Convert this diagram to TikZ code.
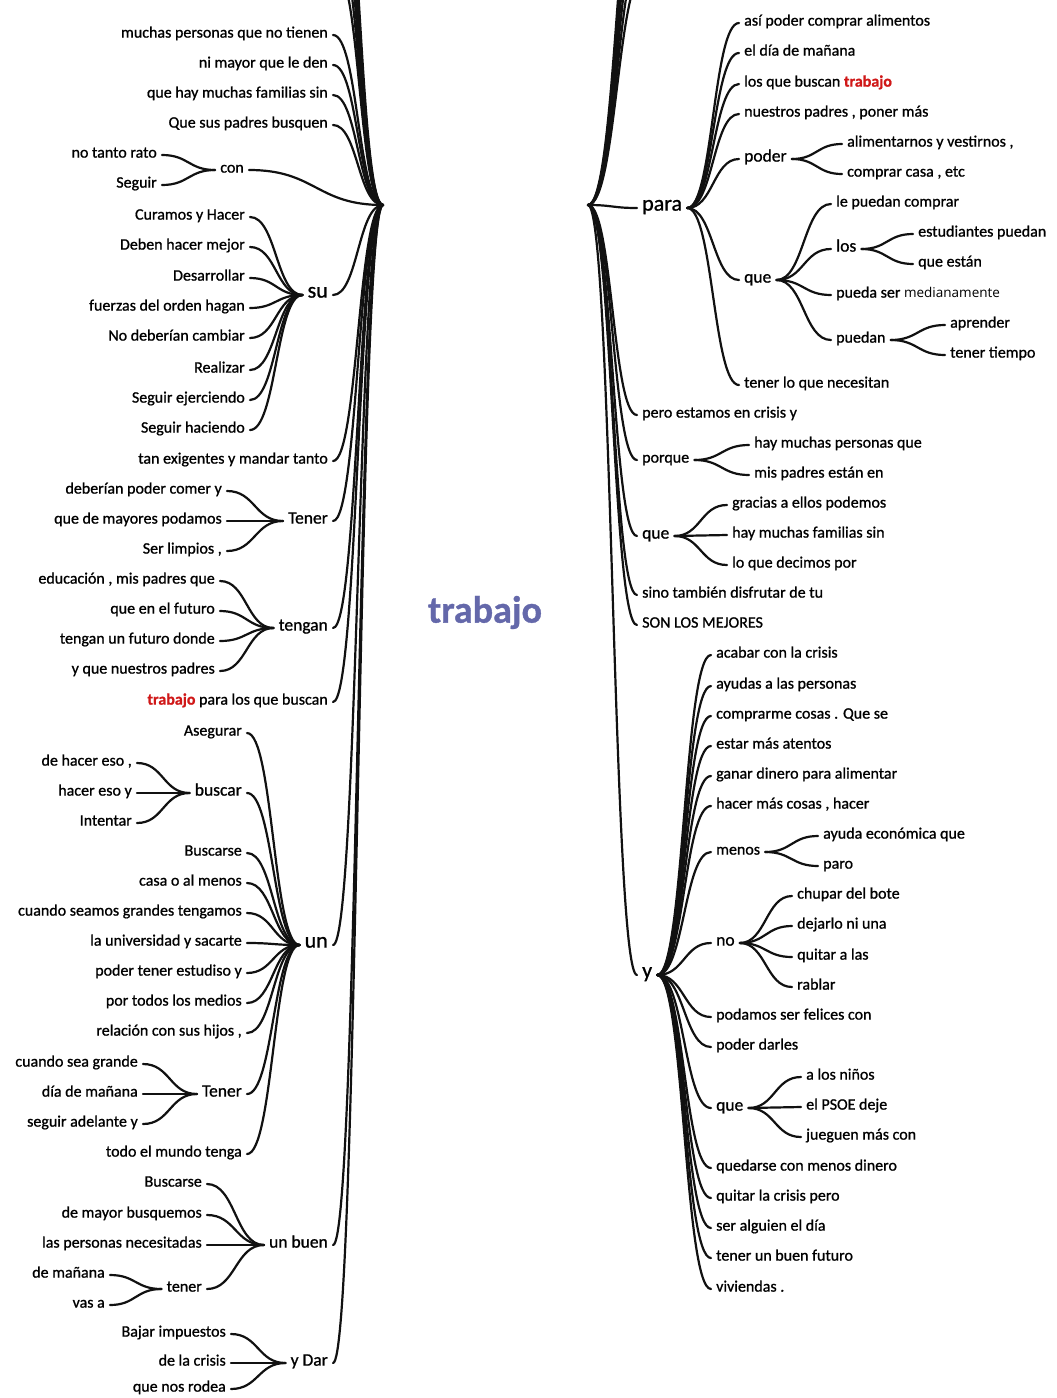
\documentclass[tikz,border=0pt]{standalone}
\usepackage{fontspec}
\setmainfont{Carlito}[FakeBold=0.9]
\newfontfamily\plainfont{Open Sans}
\usetikzlibrary{calc}
\definecolor{KeyWord}{HTML}{6468AA}
\definecolor{HitRed}{HTML}{D01818}
\definecolor{Twig}{HTML}{111111}

\begin{document}
\begin{tikzpicture}[x=1pt,y=-1pt,
  every node/.style={inner xsep=5pt,inner ysep=1pt,text height=1.1ex,text depth=0pt},
  wd/.style={font=\fontsize{16}{18}\selectfont},
  md/.style={font=\fontsize{17.5}{20}\selectfont},
  bg/.style={font=\fontsize{22}{24}\selectfont},
  toL/.style={anchor=east,xshift=5pt,yshift=-3pt},
  toR/.style={anchor=west,xshift=-5pt,yshift=-3pt},
  twig/.style={Twig,line width=2.2pt,line cap=round,to path={let \p1=(\tikztostart),\p2=(\tikztotarget) in .. controls ({(\x1+\x2)/2},\y1) and ({(\x1+\x2)/2},\y2) .. (\tikztotarget)}}]
\useasboundingbox (0,0) rectangle (1057,1398); \fill[white] (0,0) rectangle (1057,1398); \clip (0,0) rectangle (1057,1398);
\coordinate (Lroot) at (383,205); \coordinate (Rroot) at (588,205);
\node[font=\bfseries\fontsize{38}{40}\selectfont,text=KeyWord] (key) at (485,620){trabajo};
% left half
\foreach \y [count=\i] in {-30,-60,-90,-120,-150,-180}{\coordinate (offL\i) at (336,\y); \draw[twig] (offL\i) to (Lroot);}
\foreach \t/\y [count=\i] in {muchas personas que no tienen/32,ni mayor que le den/62,que hay muchas familias sin/92,Que sus padres busquen/122,tan exigentes y mandar tanto/458}{\node[wd,toL] (top\i) at (328,\y){\t}; \draw[twig] (top\i.east) to (Lroot);}
\node[wd,toL] (hitL) at (328,699){{\color{HitRed}\bfseries trabajo} para los que buscan}; \draw[twig] (hitL.east) to (Lroot);
\node[wd,toL] (con) at (244,167){con}; \draw[twig] (con.east) to (Lroot);
\foreach \t/\y [count=\i] in {no tanto rato/152,Seguir/182}{\node[wd,toL] (con\i) at (157,\y){\t}; \draw[twig] (con\i.east) to (con.west);}
\node[bg,toL] (su) at (328,292){su}; \draw[twig] (su.east) to (Lroot);
\foreach \t/\y [count=\i] in {Curamos y Hacer/214,Deben hacer mejor/244,Desarrollar/275,fuerzas del orden hagan/305,No deberían cambiar/335,Realizar/367,Seguir ejerciendo/397,Seguir haciendo/427}{\node[wd,toL] (su\i) at (245,\y){\t}; \draw[twig] (su\i.east) to (su.west);}
\node[md,toL] (tenerA) at (328,518){Tener}; \draw[twig] (tenerA.east) to (Lroot);
\foreach \t/\y [count=\i] in {deberían poder comer y/488,que de mayores podamos/518,{Ser limpios ,}/548}{\node[wd,toL] (tenerA\i) at (222,\y){\t}; \draw[twig] (tenerA\i.east) to (tenerA.west);}
\node[md,toL] (tengan) at (328,625){tengan}; \draw[twig] (tengan.east) to (Lroot);
\foreach \t/\y [count=\i] in {{educación , mis padres que}/578,que en el futuro/608,tengan un futuro donde/638,y que nuestros padres/668}{\node[wd,toL] (tengan\i) at (215,\y){\t}; \draw[twig] (tengan\i.east) to (tengan.west);}
\node[bg,toL] (un) at (328,942){un}; \draw[twig] (un.east) to (Lroot);
\foreach \t/\y [count=\i] in {Asegurar/730,Buscarse/850,casa o al menos/880,cuando seamos grandes tengamos/910,la universidad y sacarte/940,poder tener estudiso y/970,por todos los medios/1000,{relación con sus hijos ,}/1030,todo el mundo tenga/1151}{\node[wd,toL] (un\i) at (242,\y){\t}; \draw[twig] (un\i.east) to (un.west);}
\node[md,toL] (buscar) at (242,790){buscar}; \draw[twig] (buscar.east) to (un.west);
\foreach \t/\y [count=\i] in {{de hacer eso ,}/760,hacer eso y/790,Intentar/820}{\node[wd,toL] (buscar\i) at (132,\y){\t}; \draw[twig] (buscar\i.east) to (buscar.west);}
\node[md,toL] (tenerB) at (242,1091){Tener}; \draw[twig] (tenerB.east) to (un.west);
\foreach \t/\y [count=\i] in {cuando sea grande/1061,día de mañana/1091,seguir adelante y/1121}{\node[wd,toL] (tenerB\i) at (138,\y){\t}; \draw[twig] (tenerB\i.east) to (tenerB.west);}
\node[md,toL] (unbuen) at (328,1242){un buen}; \draw[twig] (unbuen.east) to (Lroot);
\foreach \t/\y [count=\i] in {Buscarse/1181,de mayor busquemos/1212,las personas necesitadas/1242}{\node[wd,toL] (unbuen\i) at (202,\y){\t}; \draw[twig] (unbuen\i.east) to (unbuen.west);}
\node[wd,toL] (tenerC) at (202,1286){tener}; \draw[twig] (tenerC.east) to (unbuen.west);
\foreach \t/\y [count=\i] in {de mañana/1272,vas a/1302}{\node[wd,toL] (tenerC\i) at (105,\y){\t}; \draw[twig] (tenerC\i.east) to (tenerC.west);}
\node[md,toL] (ydar) at (328,1360){y Dar}; \draw[twig] (ydar.east) to (Lroot);
\foreach \t/\y [count=\i] in {Bajar impuestos/1331,de la crisis/1360,que nos rodea/1386}{\node[wd,toL] (ydar\i) at (226,\y){\t}; \draw[twig] (ydar\i.east) to (ydar.west);}
% right half
\foreach \y [count=\i] in {-30,-60,-90,-120,-150,-180}{\coordinate (offR\i) at (646,\y); \draw[twig] (Rroot) to (offR\i);}
\node[bg,toR] (para) at (642,205){para}; \draw[twig] (Rroot) to (para.west);
\foreach \t/\y [count=\i] in {así poder comprar alimentos/20,el día de mañana/50,los que buscan {\color{HitRed}\bfseries trabajo}/81,{nuestros padres , poner más}/111,tener lo que necesitan/382}{\node[wd,toR] (para\i) at (744,\y){\t}; \draw[twig] (para.east) to (para\i.west);}
\node[md,toR] (poder) at (744,156){poder}; \draw[twig] (para.east) to (poder.west);
\foreach \t/\y [count=\i] in {{alimentarnos y vestirnos ,}/141,{comprar casa , etc}/171}{\node[wd,toR] (poder\i) at (847,\y){\t}; \draw[twig] (poder.east) to (poder\i.west);}
\node[md,toR] (queA) at (744,277){que}; \draw[twig] (para.east) to (queA.west);
\foreach \t/\y [count=\i] in {le puedan comprar/201,pueda ser {\plainfont\fontsize{13.5}{15}\selectfont medianamente}/292}{\node[wd,toR] (queA\i) at (836,\y){\t}; \draw[twig] (queA.east) to (queA\i.west);}
\node[md,toR] (los) at (836,246){los}; \draw[twig] (queA.east) to (los.west);
\foreach \t/\y [count=\i] in {estudiantes puedan/231,que están/261}{\node[wd,toR] (los\i) at (918,\y){\t}; \draw[twig] (los.east) to (los\i.west);}
\node[wd,toR] (puedan) at (836,337){puedan}; \draw[twig] (queA.east) to (puedan.west);
\foreach \t/\y [count=\i] in {aprender/322,tener tiempo/352}{\node[wd,toR] (puedan\i) at (950,\y){\t}; \draw[twig] (puedan.east) to (puedan\i.west);}
\foreach \t/\y [count=\i] in {pero estamos en crisis y/412,sino también disfrutar de tu/592,SON LOS MEJORES/622}{\node[wd,toR] (mid\i) at (642,\y){\t}; \draw[twig] (Rroot) to (mid\i.west);}
\node[wd,toR] (porque) at (642,457){porque}; \draw[twig] (Rroot) to (porque.west);
\foreach \t/\y [count=\i] in {hay muchas personas que/442,mis padres están en/472}{\node[wd,toR] (porque\i) at (754,\y){\t}; \draw[twig] (porque.east) to (porque\i.west);}
\node[md,toR] (queB) at (642,533){que}; \draw[twig] (Rroot) to (queB.west);
\foreach \t/\y [count=\i] in {gracias a ellos podemos/502,hay muchas familias sin/532,lo que decimos por/562}{\node[wd,toR] (queB\i) at (732,\y){\t}; \draw[twig] (queB.east) to (queB\i.west);}
\node[bg,toR] (y) at (642,972){y}; \draw[twig] (Rroot) to (y.west);
\foreach \t/\y [count=\i] in {acabar con la crisis/652,ayudas a las personas/683,comprarme cosas . Que se/713,estar más atentos/743,ganar dinero para alimentar/773,{hacer más cosas , hacer}/803,podamos ser felices con/1014,poder darles/1044,quedarse con menos dinero/1165,quitar la crisis pero/1195,ser alguien el día/1225,tener un buen futuro/1255,viviendas ./1286}{\node[wd,toR] (y\i) at (716,\y){\t}; \draw[twig] (y.east) to (y\i.west);}
\node[wd,toR] (menos) at (716,849){menos}; \draw[twig] (y.east) to (menos.west);
\foreach \t/\y [count=\i] in {ayuda económica que/833,paro/863}{\node[wd,toR] (menos\i) at (823,\y){\t}; \draw[twig] (menos.east) to (menos\i.west);}
\node[md,toR] (no) at (716,940){no}; \draw[twig] (y.east) to (no.west);
\foreach \t/\y [count=\i] in {chupar del bote/893,dejarlo ni una/923,quitar a las/954,rablar/984}{\node[wd,toR] (no\i) at (797,\y){\t}; \draw[twig] (no.east) to (no\i.west);}
\node[md,toR] (queC) at (716,1105){que}; \draw[twig] (y.east) to (queC.west);
\foreach \t/\y [count=\i] in {a los niños/1074,el PSOE deje/1104,jueguen más con/1134}{\node[wd,toR] (queC\i) at (806,\y){\t}; \draw[twig] (queC.east) to (queC\i.west);}
\end{tikzpicture}
\end{document}
